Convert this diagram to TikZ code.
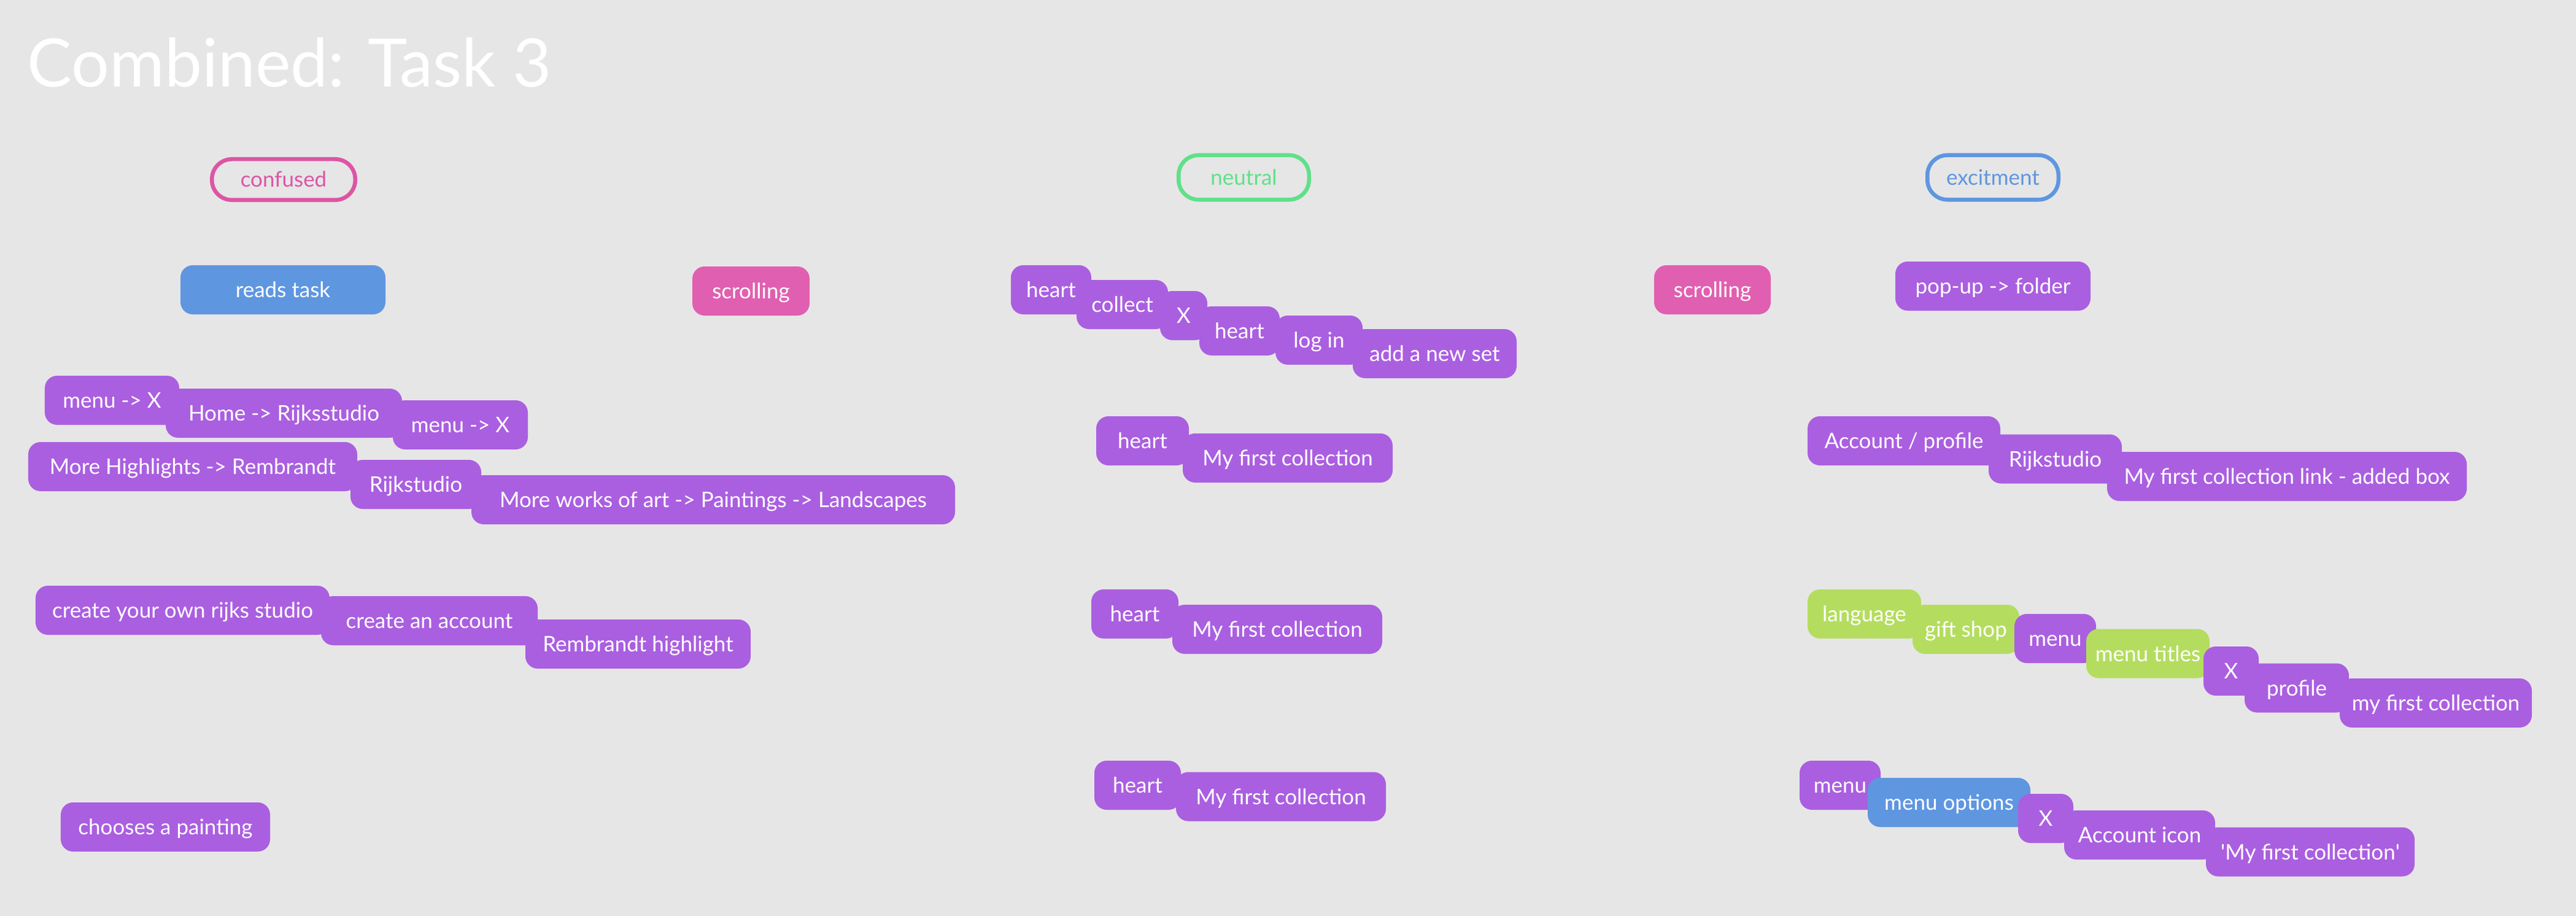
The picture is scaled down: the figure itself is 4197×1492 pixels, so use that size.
\documentclass[tikz,border=0pt]{standalone}
\usepackage{fontspec}
\setmainfont{Lato}
\usepackage{tikz}

\definecolor{bggrey}{RGB}{230,230,230}
\definecolor{boxpurple}{RGB}{170,95,224}
\definecolor{boxpink}{RGB}{225,95,176}
\definecolor{boxblue}{RGB}{95,150,224}
\definecolor{boxlime}{RGB}{180,221,95}
\definecolor{pillpink}{RGB}{221,85,165}
\definecolor{pillgreen}{RGB}{96,224,138}

\tikzset{
  stepbox/.style={rectangle, rounded corners=4pt, inner sep=0pt, minimum height=16pt,
    text=white, font=\fontsize{7pt}{8pt}\selectfont, text height=5pt, text depth=0pt, fill=boxpurple},
  moodpill/.style={rectangle, rounded corners=6.5pt, inner sep=0pt, line width=1.3pt,
    minimum height=14.5pt, font=\fontsize{7pt}{8pt}\selectfont, text height=5pt, text depth=0pt}
}

\begin{document}
\begin{tikzpicture}[x=0.2pt,y=0.2pt,yscale=-1,xscale=1]
%set diagram to the reference size
\fill[bggrey] (0,0) rectangle (4197,1492);
\useasboundingbox (0,0) rectangle (4197,1492);

% Title
\node[anchor=base west, inner sep=0pt, text=white, font=\fontsize{21.8pt}{24pt}\selectfont] (title) at (44,142) {Combined: Task 3};

% Mood pills
\node[moodpill, draw=pillpink, text=pillpink, minimum width=46.7pt, minimum height=13.3pt] (confused) at (462,292.5) {confused};
\node[moodpill, draw=pillgreen, text=pillgreen, minimum width=42.5pt] (neutral) at (2026.5,289) {neutral};
\node[moodpill, draw=boxblue, text=boxblue, minimum width=42.7pt] (excitment) at (3247,289) {excitment};

% Top row
\node[stepbox, fill=boxblue, minimum width=66.8pt] (readstask) at (461,472) {reads task};
\node[stepbox, fill=boxpink, minimum width=38.2pt] (scrollA) at (1223.5,474) {scrolling};
\node[stepbox, fill=boxpink, minimum width=38pt] (scrollB) at (2790,472) {scrolling};
\node[stepbox, minimum width=63.6pt] (popup) at (3247,466) {pop-up -> folder};

% Confused column
\node[stepbox, minimum width=43.8pt] (menuxA) at (182.5,652) {menu -> X};
\node[stepbox, minimum width=77pt] (home) at (462.5,673) {Home -> Rijksstudio};
\node[stepbox, minimum width=44pt] (menuxB) at (750,692) {menu -> X};
\node[stepbox, minimum width=107.2pt] (morehigh) at (314,760) {More Highlights -> Rembrandt};
\node[stepbox, minimum width=42.6pt] (rijkA) at (677.5,789) {Rijkstudio};
\node[stepbox, minimum width=157.6pt] (moreworks) at (1162,814) {More works of art -> Paintings -> Landscapes};
\node[stepbox, minimum width=95.8pt] (createown) at (297.5,994) {create your own rijks studio};
\node[stepbox, minimum width=70.6pt] (createacc) at (699.5,1011) {create an account};
\node[stepbox, minimum width=73.4pt] (rembrandt) at (1039.5,1049) {Rembrandt highlight};
\node[stepbox, minimum width=68.2pt] (chooses) at (269.5,1347) {chooses a painting};

% Neutral column
\node[stepbox, minimum width=26.2pt] (heartA) at (1712.5,472) {heart};
\node[stepbox, minimum width=29.8pt] (collect) at (1828.5,496) {collect};
\node[stepbox, minimum width=15.4pt] (xA) at (1928.5,514) {X};
\node[stepbox, minimum width=26.2pt] (heartB) at (2019.5,539) {heart};
\node[stepbox, minimum width=28.4pt] (login) at (2149,554) {log in};
\node[stepbox, minimum width=53.4pt] (addset) at (2337.5,576) {add a new set};
\node[stepbox, minimum width=30.2pt] (heartC) at (1861.5,718) {heart};
\node[stepbox, minimum width=68.4pt] (firstC) at (2098,746) {My first collection};
\node[stepbox, minimum width=28.4pt] (heartD) at (1849,1000) {heart};
\node[stepbox, minimum width=68.4pt] (firstD) at (2081,1025) {My first collection};
\node[stepbox, minimum width=28.2pt] (heartE) at (1853.5,1279) {heart};
\node[stepbox, minimum width=68.4pt] (firstE) at (2087,1297.5) {My first collection};

% Excitment column
\node[stepbox, minimum width=62.8pt] (account) at (3102,718) {Account / profile};
\node[stepbox, minimum width=43.4pt] (rijkB) at (3348.5,747.5) {Rijkstudio};
\node[stepbox, minimum width=117.2pt] (firstlink) at (3726,776) {My first collection link - added box};
\node[stepbox, fill=boxlime, minimum width=37pt] (language) at (3037.5,1000) {language};
\node[stepbox, fill=boxlime, minimum width=34.8pt] (giftshop) at (3203,1025) {gift shop};
\node[stepbox, minimum width=26.6pt] (menuA) at (3348.5,1040) {menu};
\node[stepbox, fill=boxlime, minimum width=40.2pt] (menutitles) at (3499.5,1064.5) {menu titles};
\node[stepbox, minimum width=18pt] (xB) at (3635,1093) {X};
\node[stepbox, minimum width=34pt] (profile) at (3742,1120.5) {profile};
\node[stepbox, minimum width=62.6pt] (firstF) at (3968.5,1145) {my first collection};
\node[stepbox, minimum width=26.4pt] (menuB) at (2998,1279) {menu};
\node[stepbox, fill=boxblue, minimum width=53pt] (menuopts) at (3175.5,1307) {menu options};
\node[stepbox, minimum width=18pt] (xC) at (3333,1333) {X};
\node[stepbox, minimum width=49.2pt] (accicon) at (3486,1360) {Account icon};
\node[stepbox, minimum width=68pt] (firstG) at (3764,1387.5) {\textquotesingle My first collection\textquotesingle};
\end{tikzpicture}
\end{document}
